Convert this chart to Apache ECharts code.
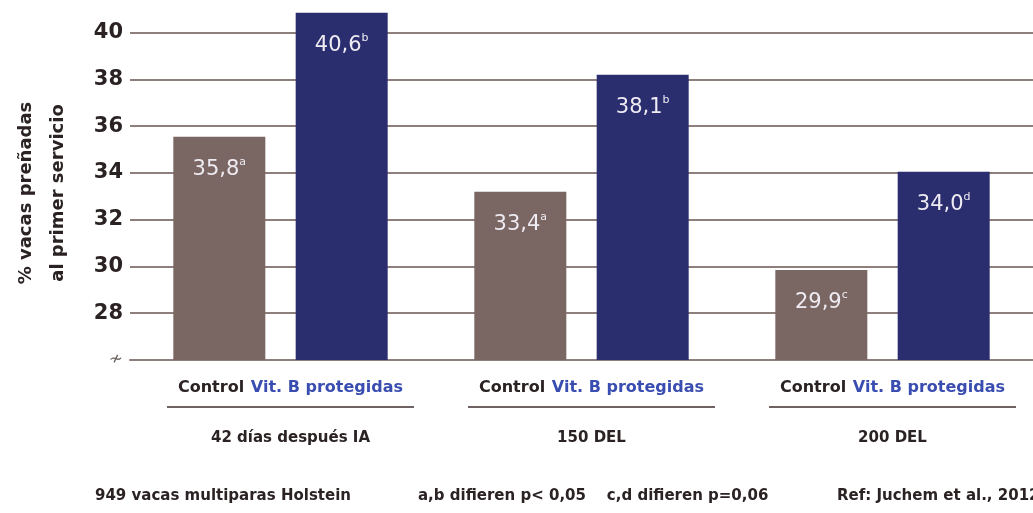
<!DOCTYPE html>
<html>
<head>
<meta charset="utf-8">
<script src="https://cdn.jsdelivr.net/npm/echarts@6/dist/echarts.min.js"></script>
<style>
html,body{margin:0;padding:0;background:#fff;}
#chart{width:1033px;height:513px;}
</style>
</head>
<body>
<div id="chart"></div>
<script>
// ---- data ----
var categories = ['42 días después IA', '150 DEL', '200 DEL'];
var seriesNames = ['Control', 'Vit. B protegidas'];
var controlValues = [35.55, 33.2, 29.85];
var vitBValues = [40.85, 38.2, 34.05];
var controlLabels = ['35,8', '33,4', '29,9'];
var controlSup = ['a', 'a', 'c'];
var vitBLabels = ['40,6', '38,1', '34,0'];
var vitBSup = ['b', 'b', 'd'];
var yMin = 26, yMax = 41.4, yInterval = 2;
var yTitle = '% vacas preñadas\nal primer servicio';
var footnotes = ['949 vacas multiparas Holstein', 'a,b difieren p< 0,05    c,d difieren p=0,06', 'Ref: Juchem et al., 2012'];

var FONT = 'DejaVu Sans';
var dark = '#2b2323';
var brown = '#7a6663';
var navy = '#2a2d6e';
var gridCol = '#8e7f7c';

var chart = echarts.init(document.getElementById('chart'), null, {renderer: 'canvas'});

function barLabel(labels, sups) {
  return {
    show: true,
    position: 'insideTop',
    distance: 20,
    formatter: function (p) {
      return '{v|' + labels[p.dataIndex] + '}{s|' + sups[p.dataIndex] + '}';
    },
    rich: {
      v: {fontFamily: FONT, fontSize: 21, color: '#eeebf2', lineHeight: 26},
      s: {fontFamily: FONT, fontSize: 11, color: '#eeebf2', verticalAlign: 'top', lineHeight: 26}
    }
  };
}

var option = {
  backgroundColor: '#ffffff',
  animation: false,
  title: [
    {text: footnotes[0], left: 90, top: 484, textStyle: {fontFamily: FONT, fontSize: 15, fontWeight: 'bold', color: dark}},
    {text: footnotes[1], left: 413, top: 484, textStyle: {fontFamily: FONT, fontSize: 15, fontWeight: 'bold', color: dark}},
    {text: footnotes[2], left: 832, top: 484, textStyle: {fontFamily: FONT, fontSize: 15, fontWeight: 'bold', color: dark}}
  ],
  graphic: [
    {
      type: 'text', x: 42, y: 193, rotation: Math.PI / 2,
      style: {text: yTitle, fontFamily: FONT, fontSize: 18, fontWeight: 'bold', fill: dark,
        align: 'center', verticalAlign: 'middle', lineHeight: 32}
    }
  ],
  grid: {left: 130, right: 0, top: 0, bottom: 153, containLabel: false},
  xAxis: {
    type: 'category',
    data: categories,
    axisLine: {show: true, lineStyle: {color: gridCol, width: 2}},
    axisTick: {show: false},
    axisLabel: {
      margin: 16,
      padding: [0, 0, 0, 20],
      formatter: function (v) {
        return '{c|Control}  {b|Vit. B protegidas}\n{u|}\n{g|' + v + '}';
      },
      rich: {
        c: {fontFamily: FONT, fontSize: 16, fontWeight: 'bold', color: dark, lineHeight: 24},
        b: {fontFamily: FONT, fontSize: 16, fontWeight: 'bold', color: '#3a4db0', lineHeight: 24},
        u: {width: 247, height: 2, backgroundColor: '#6e6262', lineHeight: 14},
        g: {fontFamily: FONT, fontSize: 15, fontWeight: 'bold', color: dark, lineHeight: 48}
      }
    }
  },
  yAxis: {
    type: 'value',
    min: yMin, max: yMax, interval: yInterval,
    axisLine: {show: false},
    axisTick: {show: false},
    splitLine: {show: true, showMaxLine: false, lineStyle: {color: gridCol, width: 2}},
    axisLabel: {
      margin: 7,
      showMaxLabel: false,
      formatter: function (v) {
        if (v === yMin) return '{k|≁}';
        if (v % 2 !== 0) return '';
        return '{n|' + v + '}';
      },
      rich: {
        n: {fontFamily: FONT, fontSize: 21, fontWeight: 'bold', color: dark},
        k: {fontFamily: FONT, fontSize: 17, color: '#6f6464'}
      }
    }
  },
  series: [
    {
      name: seriesNames[0], type: 'bar', data: controlValues,
      barWidth: 92, barGap: '33%',
      itemStyle: {color: brown},
      label: barLabel(controlLabels, controlSup)
    },
    {
      name: seriesNames[1], type: 'bar', data: vitBValues,
      barWidth: 92, barGap: '33%',
      itemStyle: {color: navy},
      label: barLabel(vitBLabels, vitBSup)
    }
  ]
};
chart.setOption(option);
</script>
</body>
</html>
